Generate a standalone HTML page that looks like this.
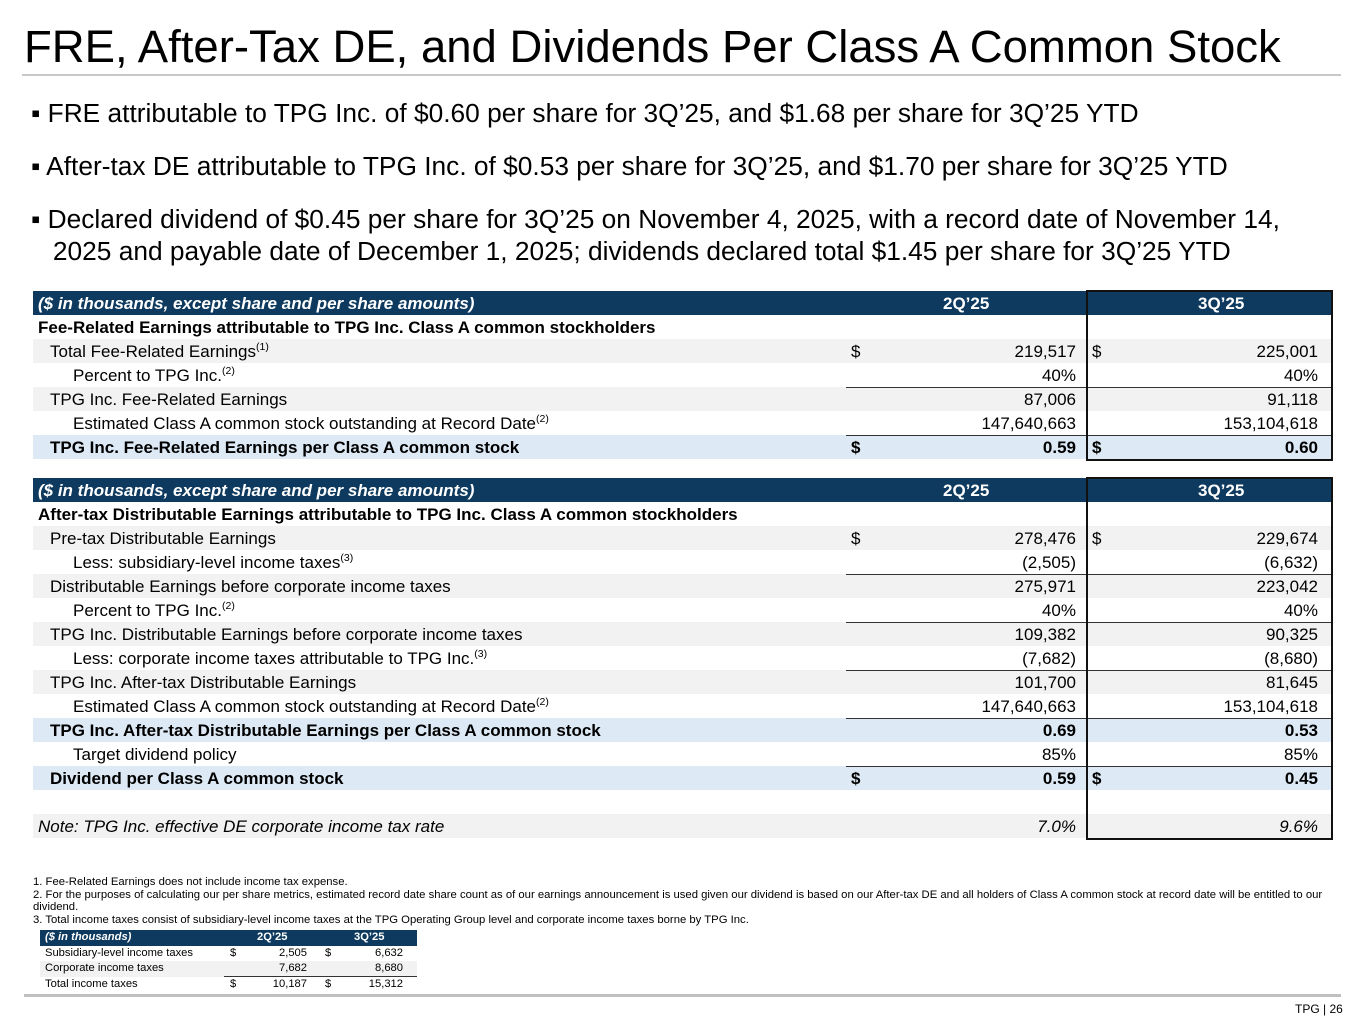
<!DOCTYPE html>
<html><head><meta charset="utf-8"><style>
*{margin:0;padding:0;box-sizing:border-box}
body{width:1365px;height:1024px;background:#fff;font-family:"Liberation Sans",Arial,sans-serif;color:#000;position:relative;overflow:hidden}
.a{position:absolute;white-space:nowrap}
.title{left:24px;top:21px;font-size:45.5px;line-height:52px;color:#000}
.bul{left:31px;font-size:26.3px;line-height:32px}
.row{position:absolute;left:33px;width:1298px;height:24px;font-size:17px;line-height:25px}
.hdr{background:#0d3a5e;color:#fff;font-weight:bold}
.g{background:#f2f2f2}.b{background:#dde9f5}
.lab{position:absolute;top:0}
.v{position:absolute;top:0;text-align:right}
.sup{font-size:10.5px;vertical-align:top;line-height:16px}
.box{position:absolute;border:2px solid #111}
.ln{position:absolute;height:1px;background:#333}
.fn{left:33px;font-size:11.3px;line-height:12.5px}
.st{position:absolute;left:40px;width:377px;height:15.5px;font-size:11.2px;line-height:15.5px}
</style></head><body>
<div class="a title">FRE, After-Tax DE, and Dividends Per Class A Common Stock</div>
<div class="a" style="left:22px;top:74px;width:1319px;height:2px;background:#c8c8c8"></div>
<div class="a bul" style="top:97px">▪ FRE attributable to TPG Inc. of $0.60 per share for 3Q’25, and $1.68 per share for 3Q’25 YTD</div>
<div class="a bul" style="top:150px">▪ After-tax DE attributable to TPG Inc. of $0.53 per share for 3Q’25, and $1.70 per share for 3Q’25 YTD</div>
<div class="a bul" style="top:203px">▪ Declared dividend of $0.45 per share for 3Q’25 on November 4, 2025, with a record date of November 14,<br>&nbsp;&nbsp;&nbsp;2025 and payable date of December 1, 2025; dividends declared total $1.45 per share for 3Q’25 YTD</div>
<div id="root"></div>
<div class="a fn" style="top:876px">1. Fee-Related Earnings does not include income tax expense.<br>2. For the purposes of calculating our per share metrics, estimated record date share count as of our earnings announcement is used given our dividend is based on our After-tax DE and all holders of Class A common stock at record date will be entitled to our<br>dividend.<br>3. Total income taxes consist of subsidiary-level income taxes at the TPG Operating Group level and corporate income taxes borne by TPG Inc.</div>
<div class="st hdr" style="top:930px"><span class="a" style="left:5px;font-style:italic">($ in thousands)</span><span class="a" style="left:217px">2Q’25</span><span class="a" style="left:314px">3Q’25</span></div>
<div class="st" style="top:945.5px"><span class="a" style="left:5px">Subsidiary-level income taxes</span><span class="a" style="left:190px">$</span><span class="a" style="right:110px">2,505</span><span class="a" style="left:285px">$</span><span class="a" style="right:14px">6,632</span></div>
<div class="st g" style="top:961px"><span class="a" style="left:5px">Corporate income taxes</span><span class="a" style="right:110px">7,682</span><span class="a" style="right:14px">8,680</span></div>
<div class="a" style="left:224px;top:976px;width:193px;height:1px;background:#333"></div>
<div class="st" style="top:977px"><span class="a" style="left:5px">Total income taxes</span><span class="a" style="left:190px">$</span><span class="a" style="right:110px">10,187</span><span class="a" style="left:285px">$</span><span class="a" style="right:14px">15,312</span></div>
<div class="a" style="left:24px;top:994px;width:1317px;height:3px;background:#c0c0c0"></div>
<div class="a" style="left:1295px;top:1002px;font-size:12px">TPG | 26</div>
<script>
const t1 = [
 ["h","Fee-Related Earnings attributable to TPG Inc. Class A common stockholders","","",0,"",""],
 ["g","Total Fee-Related Earnings<span class=sup>(1)</span>","219,517","225,001",1,"$",""],
 ["","Percent to TPG Inc.<span class=sup>(2)</span>","40%","40%",2,"",""],
 ["g","TPG Inc. Fee-Related Earnings","87,006","91,118",1,"","L"],
 ["","Estimated Class A common stock outstanding at Record Date<span class=sup>(2)</span>","147,640,663","153,104,618",2,"",""],
 ["bB","TPG Inc. Fee-Related Earnings per Class A common stock","0.59","0.60",1,"$","L"]
];
const t2 = [
 ["h","After-tax Distributable Earnings attributable to TPG Inc. Class A common stockholders","","",0,"",""],
 ["g","Pre-tax Distributable Earnings","278,476","229,674",1,"$",""],
 ["","Less: subsidiary-level income taxes<span class=sup>(3)</span>","(2,505)","(6,632)",2,"",""],
 ["g","Distributable Earnings before corporate income taxes","275,971","223,042",1,"","L"],
 ["","Percent to TPG Inc.<span class=sup>(2)</span>","40%","40%",2,"",""],
 ["g","TPG Inc. Distributable Earnings before corporate income taxes","109,382","90,325",1,"","L"],
 ["","Less: corporate income taxes attributable to TPG Inc.<span class=sup>(3)</span>","(7,682)","(8,680)",2,"",""],
 ["g","TPG Inc. After-tax Distributable Earnings","101,700","81,645",1,"","L"],
 ["","Estimated Class A common stock outstanding at Record Date<span class=sup>(2)</span>","147,640,663","153,104,618",2,"",""],
 ["bB","TPG Inc. After-tax Distributable Earnings per Class A common stock","0.69","0.53",1,"","L"],
 ["","Target dividend policy","85%","85%",2,"",""],
 ["bB","Dividend per Class A common stock","0.59","0.45",1,"$","L"],
 ["","","","",0,"",""],
 ["gI","Note: TPG Inc. effective DE corporate income tax rate","7.0%","9.6%",0,"",""]
];
const root = document.getElementById('root');
function table(rows, top, name){
  const h = document.createElement('div');
  h.className='row hdr'; h.style.top=top+'px';
  
  
  h.innerHTML='<span class="lab" style="left:5px;font-style:italic">($ in thousands, except share and per share amounts)</span><span class="lab" style="left:910px">2Q’25</span><span class="lab" style="left:1165px">3Q’25</span>';
  root.appendChild(h);
  rows.forEach((r,i)=>{
    const y = top+24*(i+1);
    const d = document.createElement('div');
    let cls='row';
    if(r[0].includes('g')) cls+=' g';
    if(r[0].includes('b')) cls+=' b';
    d.className=cls; d.style.top=y+'px';
    if(r[0].includes('B')||r[0]=='h') d.style.fontWeight='bold';
    if(r[0].includes('I')) d.style.fontStyle='italic';
    
    
    const ind=[5,17,40][r[4]];
    let html='<span class="lab" style="left:'+ind+'px">'+r[1]+'</span>';
    if(r[5]) html+='<span class="lab" style="left:818px">$</span><span class="lab" style="left:1059px">$</span>';
    html+='<span class="v" style="right:255px">'+r[2]+'</span><span class="v" style="right:13px">'+r[3]+'</span>';
    d.innerHTML=html;
    root.appendChild(d);
    if(r[6]){
      const l=document.createElement('div');
      l.className='ln'; l.style.top=y+'px'; l.style.left='846px'; l.style.width='485px';
      
      
      root.appendChild(l);
    }
  });
  const b=document.createElement('div');
  b.className='box'; b.style.left='1086px'; b.style.top=(top-1)+'px'; b.style.width='247px'; b.style.height=(24*(rows.length+1)+3)+'px';
  
  
  root.appendChild(b);
}
table(t1, 291, 'fre-table');
table(t2, 478, 'de-table');
</script>
</body></html>
